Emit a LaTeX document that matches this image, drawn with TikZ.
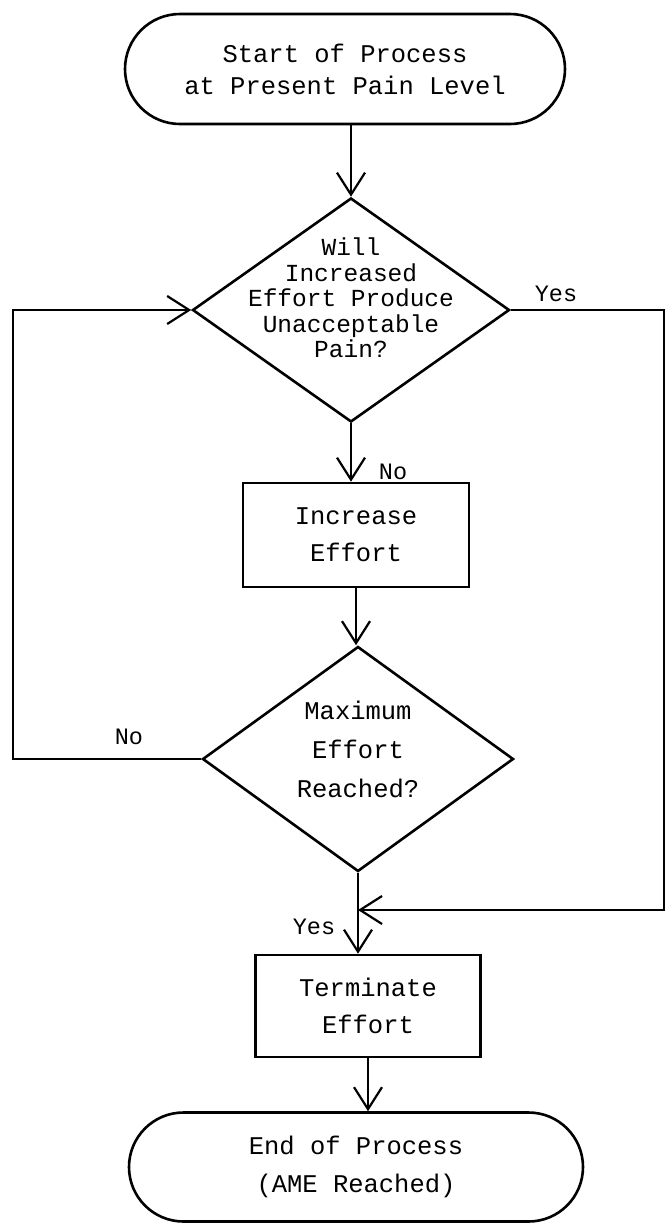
\documentclass[tikz,border=0pt]{standalone}
\usepackage{fontspec}
\setmonofont{Liberation Mono}
\usetikzlibrary{shapes.geometric,shapes.misc,arrows.meta,calc}
\newcommand\ttbig[1]{\ttfamily\fontsize{25.5}{#1}\selectfont}
\begin{document}
\begin{tikzpicture}[x=1pt,y=-1pt,
  shapeline/.style={draw=black, line width=2.6pt},
  term/.style={shapeline, rounded rectangle, inner sep=0pt, align=center},
  procbox/.style={shapeline, rectangle, inner sep=0pt, align=center,
    minimum width=226pt, minimum height=104pt, font=\ttbig{37}},
  decision/.style={shapeline, diamond, inner sep=0pt},
  dtext/.style={align=center, inner sep=0pt},
  tipv/.tip={Straight Barb[length=22pt,width=28pt,line width=2.2pt]},
  conn/.style={line width=2pt, -tipv},
  loopline/.style={line width=2.6pt, -tipv},
  lab/.style={font=\ttfamily\fontsize{23.5}{28}\selectfont, inner sep=0pt}]
\useasboundingbox (0,0) rectangle (667,1224);

% nodes
\node[term, minimum width=440pt, minimum height=110pt, font=\ttbig{32}]
  (start) at (345,69) {Start of Process\\at Present Pain Level};
\node[decision, minimum width=317pt, minimum height=224pt] (d1) at (351,310) {};
\node[dtext, font=\ttfamily\fontsize{24.5}{25.5}\selectfont] (d1text) at ($(d1.center)+(0,-12)$)
  {Will\\Increased\\Effort Produce\\Unacceptable\\Pain?};
\node[procbox] (r1) at (356,535) {Increase\\Effort};
\node[decision, minimum width=311pt, minimum height=225pt] (d2) at (358,759) {};
\node[dtext, font=\ttbig{39}] (d2text) at ($(d2.center)+(0,-10)$)
  {Maximum\\Effort\\Reached?};
\node[procbox, minimum width=225pt, minimum height=102pt] (r2) at (368,1006) {Terminate\\Effort};
\node[term, minimum width=454pt, minimum height=109pt, font=\ttbig{38}]
  (end) at (356,1167) {End of Process\\(AME Reached)};

% helper coordinates
\coordinate (rx) at (664,0);
\coordinate (lx) at (13,0);
\coordinate (jy) at (0,910);
\coordinate (join) at (d2.south |- jy);

% connectors
\draw[conn] (start.south -| d1.north) -- (d1.north);
\draw[conn] (d1.south) -- (d1.south |- r1.north);
\draw[conn] (r1.south) -- (r1.south |- d2.north);
\draw[conn] (d2.south) -- (d2.south |- r2.north);
\draw[conn] (r2.south) -- (r2.south |- end.north);
\draw[loopline] (d1.east) -- (d1.east -| rx) -- (rx |- jy) -- (join);
\draw[loopline] (d2.west) -- (d2.west -| lx) -- (lx |- d1.west) -- (d1.west);

% labels
\node[lab] (yes1) at (556,294) {Yes};
\node[lab] (no1) at (393,472) {No};
\node[lab] (no2) at (129,737) {No};
\node[lab] (yes2) at (314,927) {Yes};
\end{tikzpicture}
\end{document}
